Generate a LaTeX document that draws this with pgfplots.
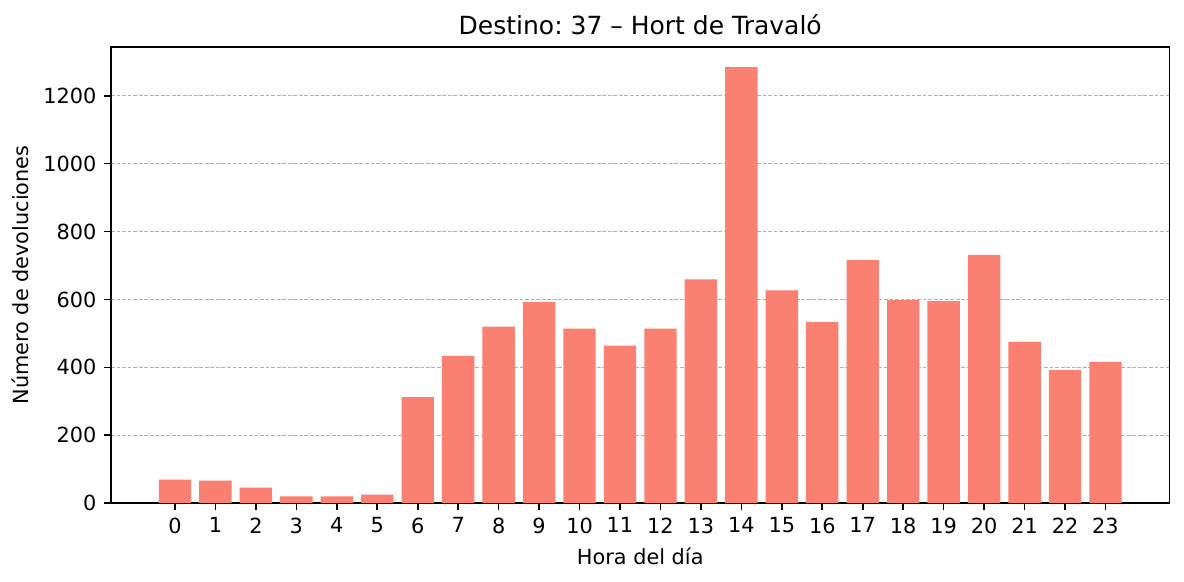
\documentclass[border=0pt]{standalone}
\usepackage{fontspec}
\setmainfont{DejaVu Sans}
\usepackage{pgfplots}
\pgfplotsset{compat=1.18}
\definecolor{salmon}{RGB}{250,128,114}
\frenchspacing
\begin{document}
\begin{tikzpicture}
\begin{axis}[
  width=508pt, height=219pt, scale only axis,
  xmin=-1.58, xmax=24.58, ymin=0, ymax=1344,
  xtick={0,...,23}, ytick={0,200,...,1200},
  tick align=outside, tick pos=left,
  major tick length=3.5pt,
  axis line style={line width=0.8pt},
  every tick/.style={black, line width=0.8pt},
  ymajorgrids,
  grid style={dash pattern=on 1.85pt off 0.8pt, color={rgb,255:red,176;green,176;blue,176}, line width=0.5pt},
  title={Destino: 37 – Hort de Travaló},
  title style={font=\large, yshift=-3.8pt},
  xlabel={Hora del día},
  ylabel={Número de devoluciones},
  /pgf/number format/assume math mode=true,
  yticklabel style={/pgf/number format/1000 sep={}},
]
\addplot[ybar, bar width=0.8, bar shift=0pt, fill=salmon, draw=none] coordinates {
(0,69) (1,66) (2,46) (3,20) (4,20) (5,25) (6,312) (7,434) (8,520) (9,592)
(10,514) (11,464) (12,514) (13,659) (14,1284) (15,627) (16,533) (17,716)
(18,598) (19,595) (20,731) (21,475) (22,392) (23,416)
};
\end{axis}
\useasboundingbox (current axis.south west) ++(-53.3pt,-37.4pt) rectangle ++(568.3pt,278.9pt);
\end{tikzpicture}
\end{document}
